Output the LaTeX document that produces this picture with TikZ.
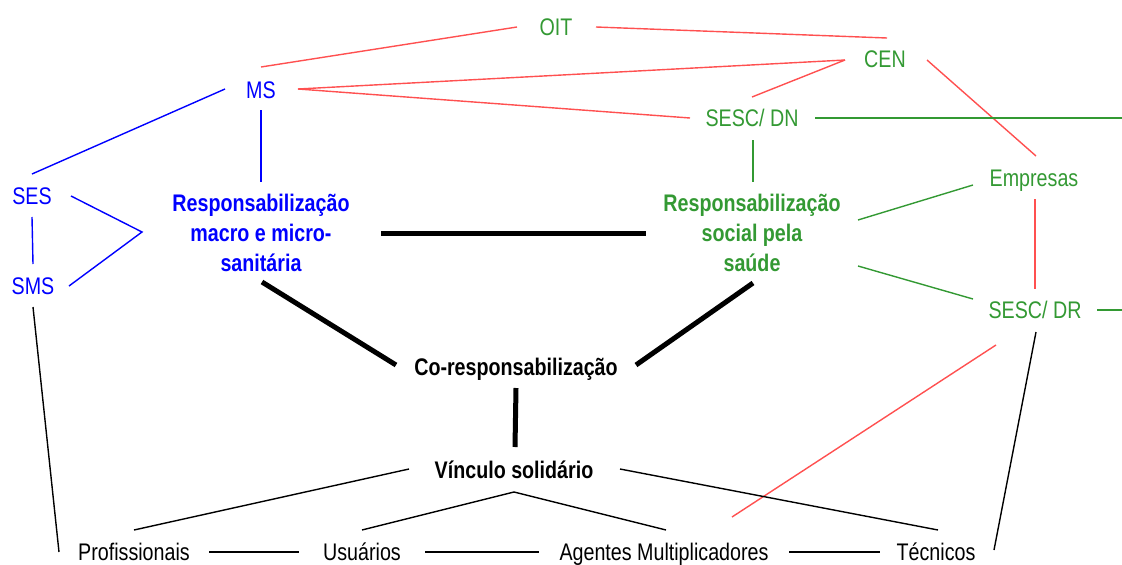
\documentclass[tikz,border=0pt]{standalone}
\usepackage{fontspec}
\setmainfont{Liberation Sans}[FakeStretch=0.82]
\usetikzlibrary{calc}
\definecolor{cred}{RGB}{255,80,80}
\definecolor{cgreen}{RGB}{51,153,51}
\definecolor{cblue}{RGB}{0,0,255}
\begin{document}
\begin{tikzpicture}[x=1pt,y=-1pt,
  lbl/.style={font=\fontsize{24}{30}\selectfont, inner sep=0pt, text height=17.2pt, text depth=0pt},
  blbl/.style={lbl, font=\fontsize{24}{30}\selectfont\bfseries},
  multi/.style={font=\fontsize{24}{30}\selectfont\bfseries, inner sep=0pt, align=center},
  rline/.style={draw=cred, line width=1.4pt},
  gline/.style={draw=cgreen, line width=1.4pt},
  bline/.style={draw=cblue, line width=1.4pt},
  kline/.style={draw=black, line width=1.4pt},
  thick line/.style={draw=black, line width=5pt}]
\useasboundingbox (0,0) rectangle (1122,565);
% nodes
\node[lbl, text=cgreen] (oit) at (556,27) {OIT};
\node[lbl, text=cgreen] (cen) at (885,59) {CEN};
\node[lbl, text=cblue] (ms) at (261,90) {MS};
\node[lbl, text=cgreen] (dn) at (752,118) {SESC/ DN};
\node[lbl, text=cblue] (ses) at (32,196) {SES};
\node[lbl, text=cblue] (sms) at (33,286) {SMS};
\node[multi, text=cblue] (rm) at (261,233) {Responsabilização\\macro e micro-\\sanitária};
\node[multi, text=cgreen] (rs) at (752,233) {Responsabilização\\social pela\\saúde};
\node[lbl, text=cgreen] (emp) at (1034,178) {Empresas};
\node[lbl, text=cgreen] (dr) at (1035,310) {SESC/ DR};
\node[blbl] (co) at (516,367) {Co-responsabilização};
\node[blbl] (vin) at (514,470) {Vínculo solidário};
\node[lbl] (prof) at (134,552) {Profissionais};
\node[lbl] (usu) at (362,552) {Usuários};
\node[lbl] (ag) at (664,552) {Agentes Multiplicadores};
\node[lbl] (tec) at (936,552) {Técnicos};
\coordinate (dnEdge) at (1122,118);
\coordinate (drEdge) at (1122,310);
\coordinate (vtip) at (142,232);
% red connectors
\draw[rline] ($(ms)+(0,-23)$) -- ($(oit)+(-39,0)$);
\draw[rline] ($(oit)+(40,0)$) -- ($(cen)+(2,-21)$);
\draw[rline] ($(ms)+(37,-1)$) -- ($(cen)+(-40,1)$);
\draw[rline] ($(ms)+(37,-1)$) -- ($(dn)+(-62,0)$);
\draw[rline] ($(dn)+(0,-21)$) -- ($(cen)+(-40,1)$);
\draw[rline] ($(cen)+(42,1)$) -- ($(emp)+(2,-22)$);
\draw[rline] ($(emp)+(1,21)$) -- ($(dr)+(0,-21)$);
\draw[rline] ($(dr)+(-39,35)$) -- ($(ag)+(68,-35)$);
% green connectors
\draw[gline] ($(dn)+(63,0)$) -- (dnEdge);
\draw[gline] ($(dn)+(1,22)$) -- ($(rs)+(1,-51)$);
\draw[gline] ($(rs)+(106,-13)$) -- ($(emp)+(-61,7)$);
\draw[gline] ($(rs)+(106,33)$) -- ($(dr)+(-62,-11)$);
\draw[gline] ($(dr)+(62,0)$) -- (drEdge);
% blue connectors
\draw[bline] ($(ms)+(-36,-1)$) -- ($(ses)+(0,-22)$);
\draw[bline] ($(ms)+(0,20)$) -- ($(rm)+(0,-51)$);
\draw[bline] ($(ses)+(0,21)$) -- ($(sms)+(0,-22)$);
\draw[bline] ($(ses)+(39,0)$) -- (vtip) -- ($(sms)+(36,0)$);
% thick black connectors
\draw[thick line] ($(rm)+(120,0)$) -- ($(rs)+(-106,0)$);
\draw[thick line] ($(rm)+(1,49)$) -- ($(co)+(-120,-2)$);
\draw[thick line] ($(rs)+(1,50)$) -- ($(co)+(120,-2)$);
\draw[thick line] ($(co)+(0,21)$) -- ($(vin)+(1,-23)$);
% thin black connectors
\draw[kline] ($(sms)+(0,21)$) -- ($(prof)+(-75,0)$);
\draw[kline] ($(dr)+(1,22)$) -- ($(tec)+(58,-2)$);
\draw[kline] ($(vin)+(-105,-1)$) -- ($(prof)+(0,-22)$);
\draw[kline] ($(vin)+(106,-1)$) -- ($(tec)+(2,-22)$);
\draw[kline] ($(usu)+(0,-22)$) -- ($(vin)+(0,22)$) -- ($(ag)+(2,-22)$);
\draw[kline] ($(prof)+(75,0)$) -- ($(usu)+(-63,0)$);
\draw[kline] ($(usu)+(63,0)$) -- ($(ag)+(-125,0)$);
\draw[kline] ($(ag)+(125,0)$) -- ($(tec)+(-56,0)$);
\end{tikzpicture}
\end{document}
